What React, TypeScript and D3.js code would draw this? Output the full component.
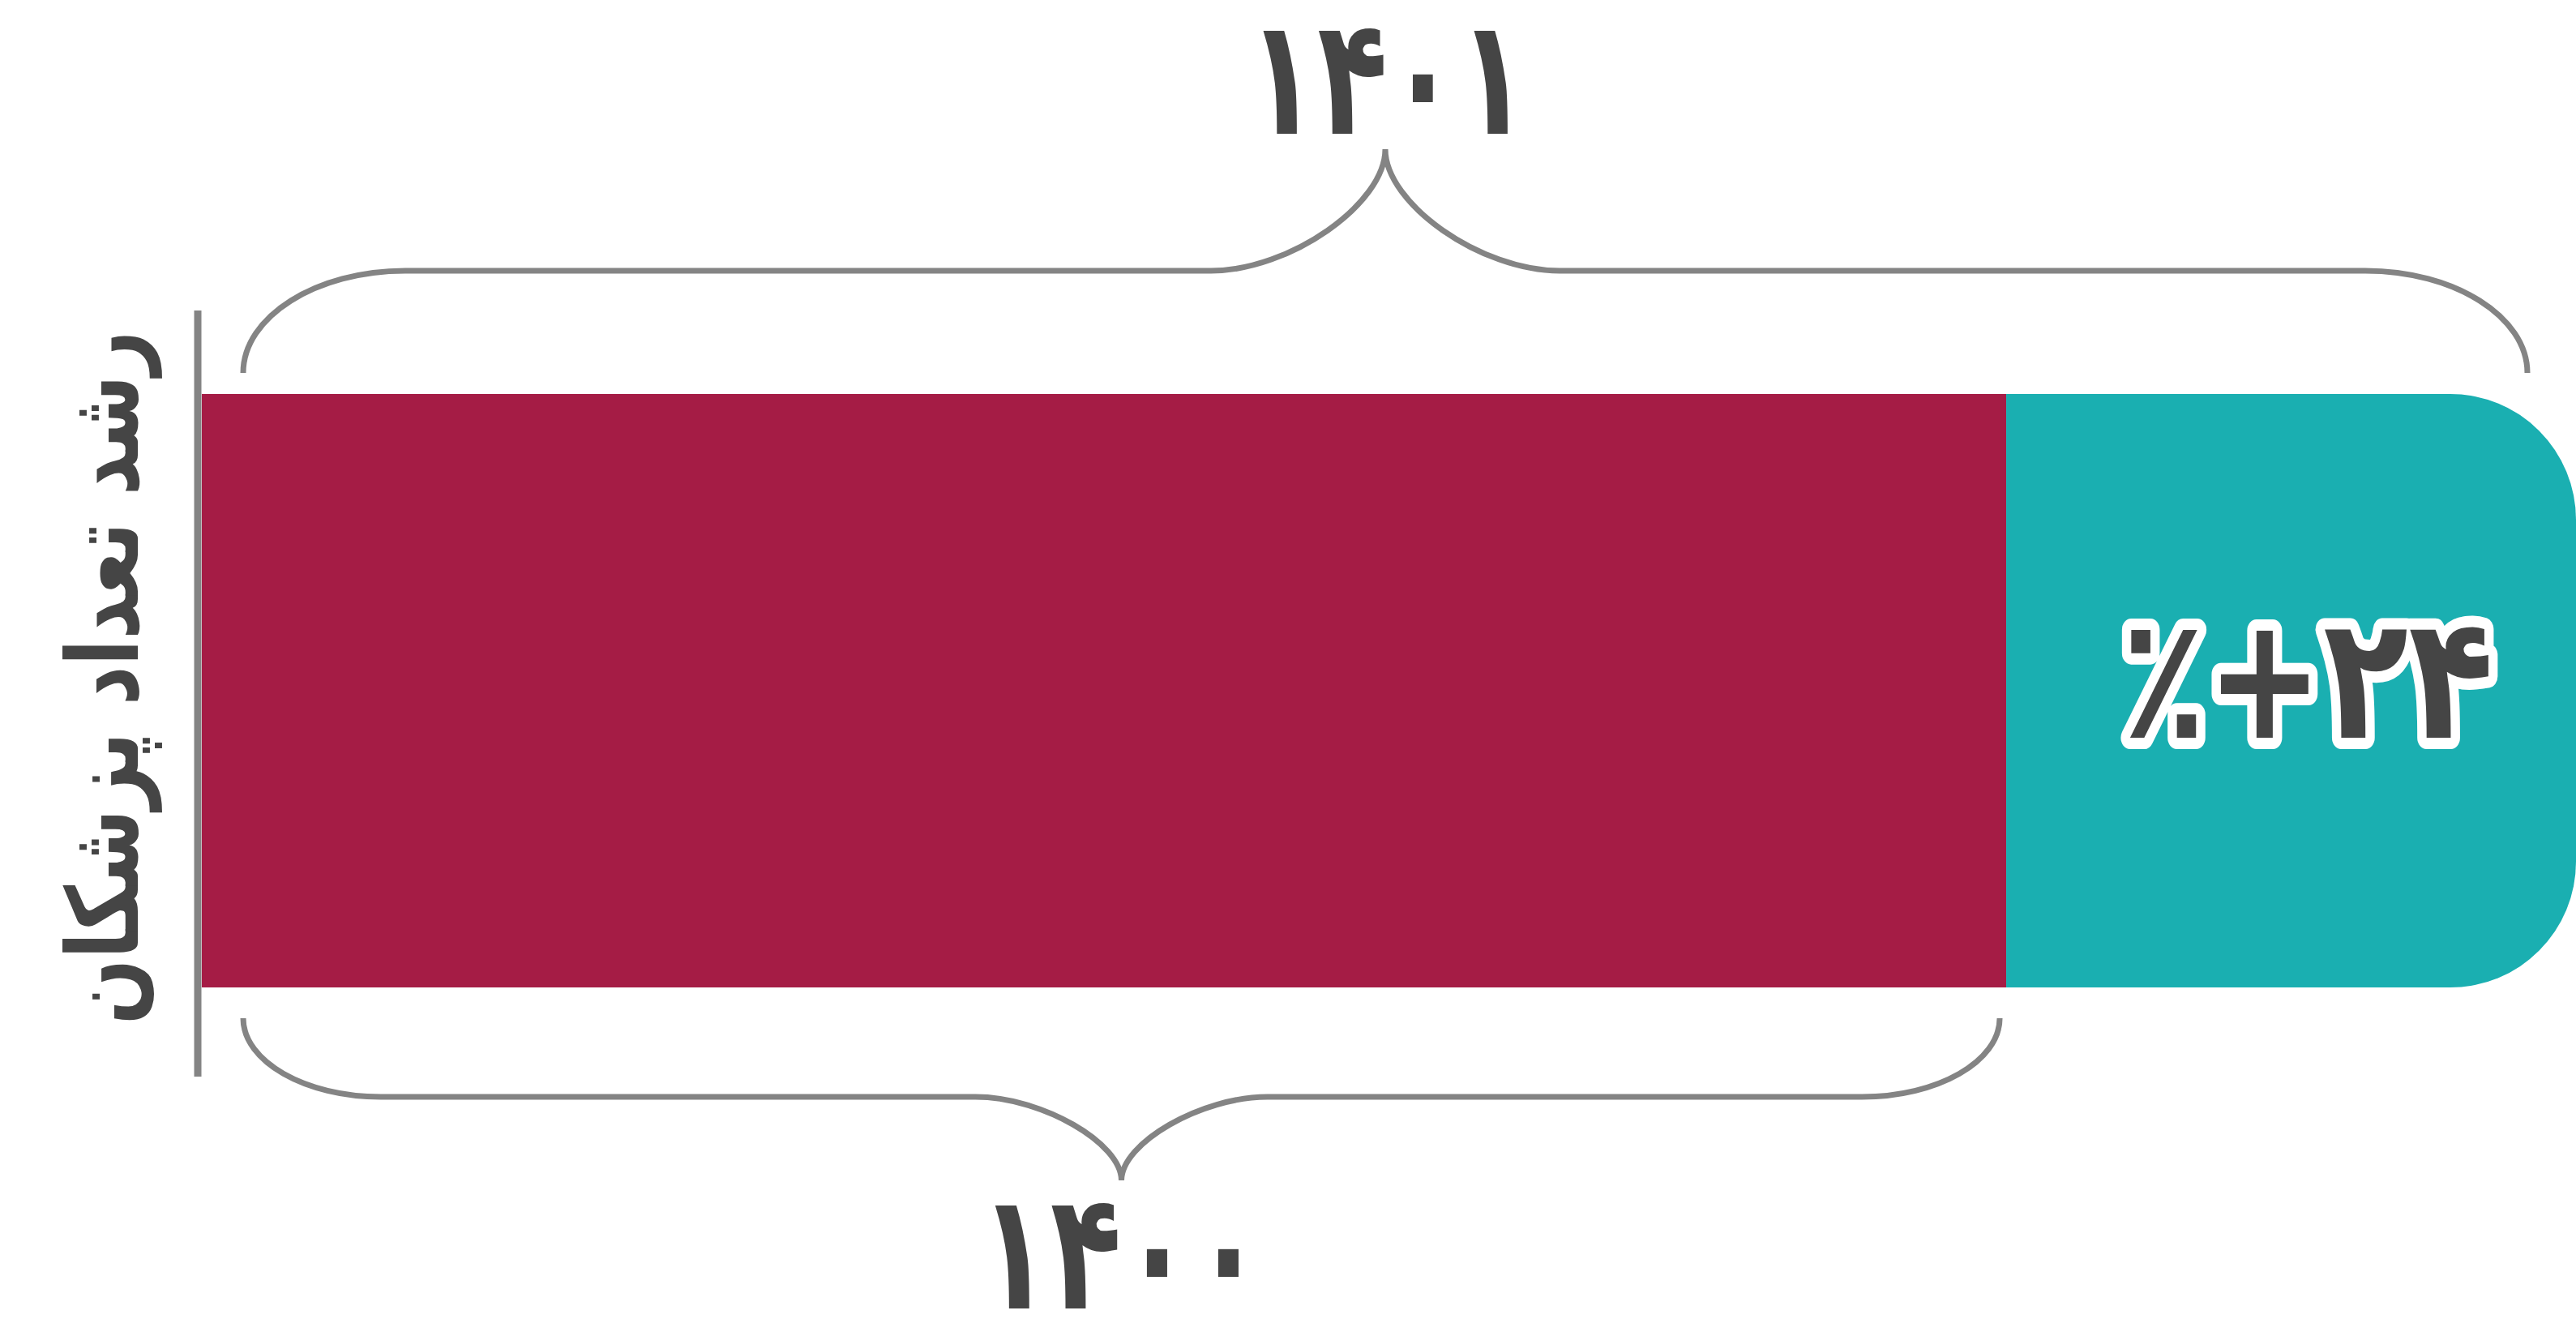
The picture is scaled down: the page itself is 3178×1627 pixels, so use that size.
import React from 'react';
import * as d3 from 'd3';

// Growth of the number of physicians: one stacked bar, 1400 share + growth share.
const segmentKeys = ['base', 'growth'];
const segmentValues = [76, 24];
const segmentColors = ['#A51C45', '#1AAFB1'];
const yearLabels = ['۱۴۰۰', '۱۴۰۱'];
const axisTitle = 'رشد تعداد پزشکان';

const W = 3178;
const H = 1627;
const FONT = '"DejaVu Sans", "Noto Sans", sans-serif';

// curly brace between x1 and x2 (yTip above/below yFlat sets the direction)
function bracePath(x1, x2, yEnd, yFlat, yTip, curlW, tipW) {
  const xm = (x1 + x2) / 2;
  const k = 0.55;
  const kt = 0.45; // sharper cusp at the tip
  const p = d3.path();
  p.moveTo(x1, yEnd);
  p.bezierCurveTo(x1, yEnd + (yFlat - yEnd) * k, x1 + curlW * (1 - k), yFlat, x1 + curlW, yFlat);
  p.lineTo(xm - tipW, yFlat);
  p.bezierCurveTo(xm - tipW * (1 - kt), yFlat, xm, yTip + (yFlat - yTip) * kt, xm, yTip);
  p.bezierCurveTo(xm, yTip + (yFlat - yTip) * kt, xm + tipW * (1 - kt), yFlat, xm + tipW, yFlat);
  p.lineTo(x2 - curlW, yFlat);
  p.bezierCurveTo(x2 - curlW * (1 - k), yFlat, x2, yEnd + (yFlat - yEnd) * k, x2, yEnd);
  return p.toString();
}

function roundedRightRect(x0, x1, y0, y1, r) {
  const p = d3.path();
  p.moveTo(x0, y0);
  p.lineTo(x1 - r, y0);
  p.arcTo(x1, y0, x1, y0 + r, r);
  p.lineTo(x1, y1 - r);
  p.arcTo(x1, y1, x1 - r, y1, r);
  p.lineTo(x0, y1);
  p.closePath();
  return p.toString();
}

export default function App() {
  const total = d3.sum(segmentValues);
  const x = d3.scaleLinear().domain([0, total]).range([249, W]);
  const y = d3.scaleBand().domain(['bar']).range([486, 1218]).padding(0);
  const y0 = y('bar');
  const y1 = y0 + y.bandwidth();

  const stacked = segmentValues.map((v, i) => {
    const start = d3.sum(segmentValues.slice(0, i));
    return { key: segmentKeys[i], start, end: start + v, color: segmentColors[i] };
  });
  const baseEnd = stacked[0].end;
  const growth = segmentValues[1];

  const gray = '#848484';
  const ink = '#454545';

  const topL = x(0) + 51;
  const topR = x(total) - 60;
  const botL = x(0) + 51;
  const botR = x(baseEnd) - 8;

  return (
    <>
      <style>{`body{margin:0;background:#fff}`}</style>
      <svg width={W} height={H} style={{ display: 'block' }}>
        {/* bar segments */}
        <rect
          x={x(stacked[0].start)}
          y={y0}
          width={x(stacked[0].end) - x(stacked[0].start)}
          height={y1 - y0}
          fill={stacked[0].color}
        />
        <path d={roundedRightRect(x(stacked[1].start), x(stacked[1].end), y0, y1, 155)} fill={stacked[1].color} />

        {/* axis line */}
        <line x1={244} x2={244} y1={383} y2={1328} stroke={gray} strokeWidth={9} />

        {/* top brace: 1401 total */}
        <path d={bracePath(topL, topR, 460, 334, 184, 200, 215)} fill="none" stroke={gray} strokeWidth={7} />
        {/* bottom brace: 1400 */}
        <path d={bracePath(botL, botR, 1256, 1353, 1456, 170, 180)} fill="none" stroke={gray} strokeWidth={7} />

        <text
          transform={`translate(${(topL + topR) / 2 + 3}, 165) scale(0.71, 1)`}
          textAnchor="middle"
          fontFamily={FONT}
          fontWeight="bold"
          fontSize={200}
          fill={ink}
        >
          {yearLabels[1]}
        </text>
        <text
          transform={`translate(${(botL + botR) / 2}, 1614) scale(0.72, 1)`}
          textAnchor="middle"
          fontFamily={FONT}
          fontWeight="bold"
          fontSize={200}
          fill={ink}
        >
          {yearLabels[0]}
        </text>

        {/* growth label */}
        <text
          transform={`translate(${(x(baseEnd) + x(total)) / 2 + 20}, 910) scale(0.82, 1)`}
          textAnchor="middle"
          fontFamily={FONT}
          fontWeight="bold"
          fontSize={210}
          fill={ink}
          stroke="#fff"
          strokeWidth={28}
          strokeLinejoin="round"
          paintOrder="stroke"
          direction="ltr"
          unicodeBidi="bidi-override"
        >
          {`٪+${growth.toLocaleString('fa-IR')}`}
        </text>

        {/* vertical title */}
        <text
          transform={`translate(170, ${(y0 + y1) / 2 - 16}) rotate(-90) scale(0.78, 1)`}
          textAnchor="middle"
          fontFamily={FONT}
          fontWeight="bold"
          fontSize={122}
          fill={ink}
          direction="rtl"
        >
          {axisTitle}
        </text>
      </svg>
    </>
  );
}
